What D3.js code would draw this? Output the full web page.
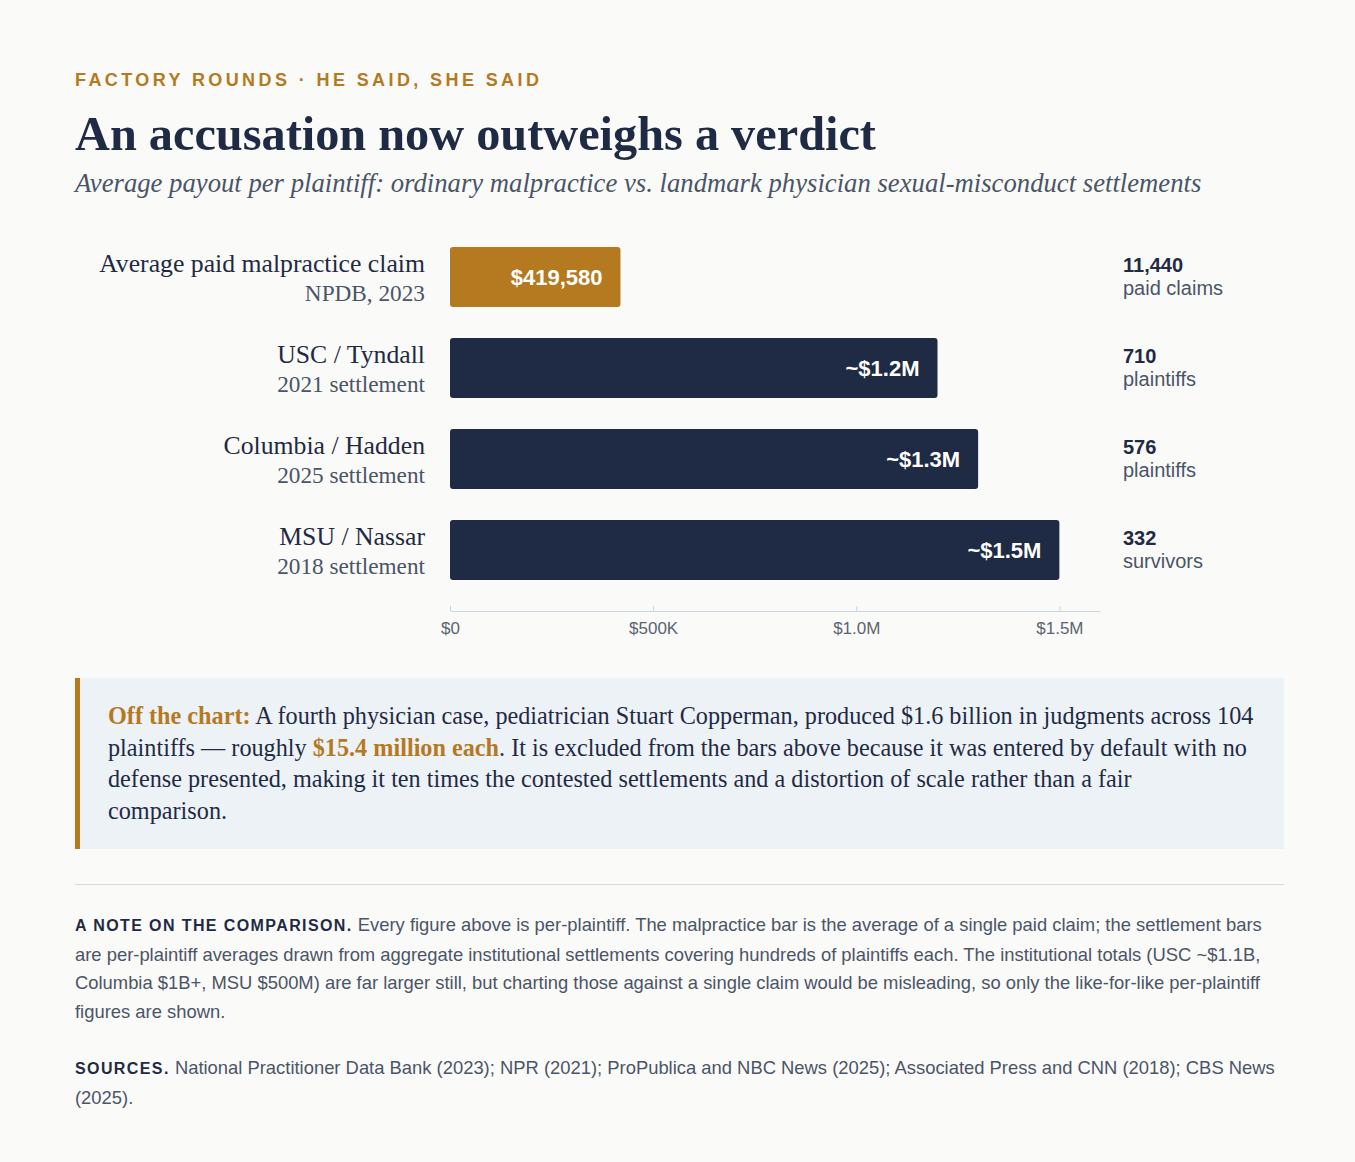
<!DOCTYPE html>
<html><head><meta charset="utf-8">
<script src="https://cdn.jsdelivr.net/npm/d3@7"></script>
<style>
html,body{margin:0;padding:0;background:#fafaf8;}
body{width:1355px;height:1162px;position:relative;overflow:hidden;}
.kicker{position:absolute;left:75px;top:69px;font:bold 18px 'Liberation Sans',Arial,sans-serif;letter-spacing:3.4px;color:#b5791f;white-space:nowrap;line-height:22px}
.title{position:absolute;left:75px;top:109px;font:bold 42px Georgia,'Liberation Serif',serif;color:#1f2a44;line-height:50px;white-space:nowrap;margin:0}
.subtitle{position:absolute;left:75px;top:168px;font:italic 25px/30px Georgia,'Liberation Serif',serif;color:#4a5568;white-space:nowrap;margin:0}
svg{position:absolute;left:0;top:0}
.callout{position:absolute;left:75px;top:678px;width:1209px;height:171px;box-sizing:border-box;background:#edf2f7;border-left:5px solid #b5791f;padding:22px 20px 0 28px;font:23px/31.5px Georgia,'Liberation Serif',serif;color:#1f2a44;white-space:nowrap}
.callout b{color:#b5791f}
.rule{position:absolute;left:75px;top:884px;width:1209px;height:0;border-top:1px solid #d5d9de}
.notes{position:absolute;left:75px;top:911px;width:1260px;font:18.4px/28.5px 'Liberation Sans',Arial,sans-serif;color:#4a5568;white-space:nowrap}
.notes p{margin:0 0 28px 0}
.notes strong{color:#1f2a44;letter-spacing:1.4px;font-size:16px}
</style></head>
<body>
<div class="kicker">FACTORY ROUNDS · HE SAID, SHE SAID</div>
<h1 class="title" id="title">An accusation now outweighs a verdict</h1>
<p class="subtitle" id="subtitle">Average payout per plaintiff: ordinary malpractice vs. landmark physician sexual-misconduct settlements</p>
<svg id="chart" width="1355" height="660"></svg>
<div class="callout" id="callout"><span id="cl1"><b>Off the chart:</b> A fourth physician case, pediatrician Stuart Copperman, produced $1.6 billion in judgments across 104</span><br>plaintiffs — roughly <b>$15.4 million each</b>. It is excluded from the bars above because it was entered by default with no<br>defense presented, making it ten times the contested settlements and a distortion of scale rather than a fair<br>comparison.</div>
<div class="rule"></div>
<div class="notes">
<p><strong>A NOTE ON THE COMPARISON.</strong> Every figure above is per-plaintiff. The malpractice bar is the average of a single paid claim; the settlement bars<br>are per-plaintiff averages drawn from aggregate institutional settlements covering hundreds of plaintiffs each. The institutional totals (USC ~$1.1B,<br>Columbia $1B+, MSU $500M) are far larger still, but charting those against a single claim would be misleading, so only the like-for-like per-plaintiff<br>figures are shown.</p>
<p><strong>SOURCES.</strong> National Practitioner Data Bank (2023); NPR (2021); ProPublica and NBC News (2025); Associated Press and CNN (2018); CBS News<br>(2025).</p>
</div>
<script>
const categories = ["Average paid malpractice claim","USC / Tyndall","Columbia / Hadden","MSU / Nassar"];
const subLabels = ["NPDB, 2023","2021 settlement","2025 settlement","2018 settlement"];
const values = [419580, 1200000, 1300000, 1500000];
const valueLabels = ["$419,580","~$1.2M","~$1.3M","~$1.5M"];
const counts = ["11,440","710","576","332"];
const countUnits = ["paid claims","plaintiffs","plaintiffs","survivors"];
const tickValues = [0, 500000, 1000000, 1500000];
const tickLabels = ["$0","$500K","$1.0M","$1.5M"];

const navy = "#1f2a44", gold = "#b5791f";
const sans = "'Liberation Sans', Arial, sans-serif";
const serif = "Georgia, 'Liberation Serif', serif";

// fit serif HTML text to the widths measured on the reference
function fitHTML(el, measureEl, target) {
  const w = measureEl.getBoundingClientRect().width;
  const fs = parseFloat(getComputedStyle(el).fontSize);
  el.style.fontSize = (fs * target / w) + "px";
}
fitHTML(document.getElementById("title"), document.getElementById("title"), 801);
fitHTML(document.getElementById("subtitle"), document.getElementById("subtitle"), 1127);
fitHTML(document.getElementById("callout"), document.getElementById("cl1"), 1146);

const svg = d3.select("#chart");
const x = d3.scaleLinear().domain([0, 1600000]).range([450, 1100]);
const y = d3.scaleBand().domain(categories).range([247, 580]).paddingInner(31/91).paddingOuter(0);
const data = categories.map((c,i)=>({c, sub:subLabels[i], v:values[i], lab:valueLabels[i], n:counts[i], u:countUnits[i], i}));

const rows = svg.selectAll("g.row").data(data).join("g").attr("class","row");
rows.append("rect")
  .attr("x", x(0)).attr("y", d=>y(d.c))
  .attr("width", d=>x(d.v)-x(0)).attr("height", y.bandwidth())
  .attr("rx", 3).attr("fill", d=>d.i===0?gold:navy);
rows.append("text")
  .attr("x", d=>x(d.v)-18).attr("y", d=>y(d.c)+y.bandwidth()/2)
  .attr("dy","0.35em").attr("text-anchor","end")
  .attr("fill","#fff").style("font", `bold 22px ${sans}`).text(d=>d.lab);
const mainLab = rows.append("text")
  .attr("x", 425).attr("y", d=>y(d.c)+y.bandwidth()/2-14)
  .attr("dy","0.35em").attr("text-anchor","end")
  .attr("fill", navy).style("font", `24px ${serif}`).text(d=>d.c);
const subLab = rows.append("text")
  .attr("x", 425).attr("y", d=>y(d.c)+y.bandwidth()/2+16)
  .attr("dy","0.35em").attr("text-anchor","end")
  .attr("fill", "#4a5568").style("font", `20px ${serif}`).text(d=>d.sub);
// scale serif label sizes to reference widths
const m0 = mainLab.nodes()[0].getComputedTextLength();
mainLab.style("font-size", (24*326/m0) + "px");
const s0 = subLab.nodes()[1].getComputedTextLength();
subLab.style("font-size", (20*148/s0) + "px");

rows.append("text")
  .attr("x", 1123).attr("y", d=>y(d.c)+y.bandwidth()/2-12)
  .attr("dy","0.35em")
  .attr("fill", navy).style("font", `bold 20px ${sans}`).text(d=>d.n);
rows.append("text")
  .attr("x", 1123).attr("y", d=>y(d.c)+y.bandwidth()/2+11)
  .attr("dy","0.35em")
  .attr("fill", "#4a5568").style("font", `20px ${sans}`).text(d=>d.u);

const axis = d3.axisBottom(x).tickValues(tickValues).tickFormat((d,i)=>tickLabels[i])
  .tickSize(-5).tickSizeOuter(0).tickPadding(11);
const ag = svg.append("g").attr("transform","translate(0,611)").call(axis);
ag.select(".domain").attr("stroke","#cbd5e0");
ag.selectAll(".tick line").attr("stroke","#cbd5e0");
ag.selectAll(".tick text").attr("fill","#5a6474").style("font", `17px ${sans}`);
</script>
</body></html>
